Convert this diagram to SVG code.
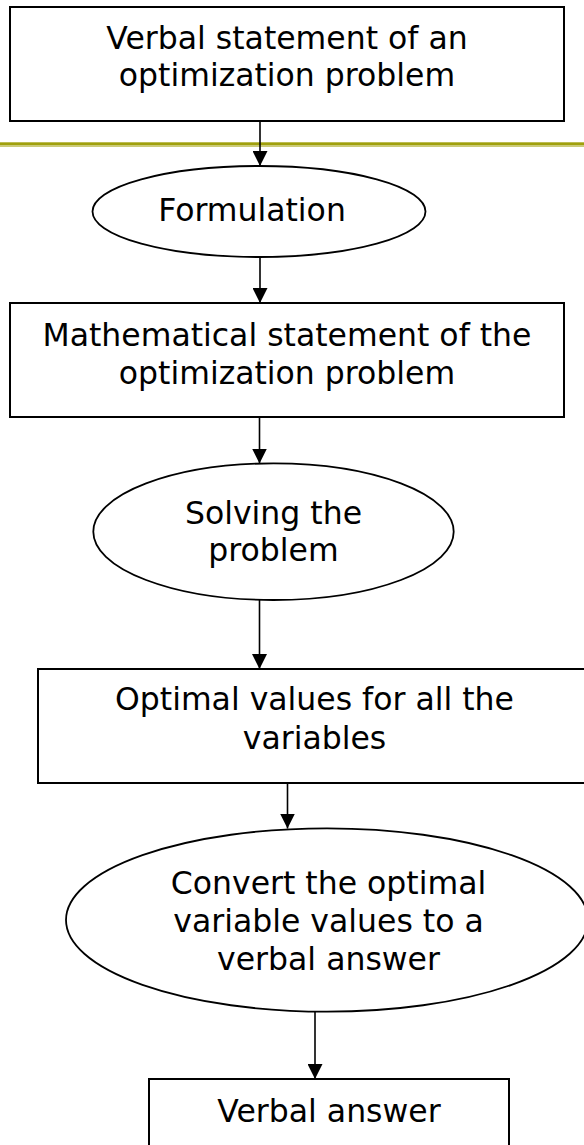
<svg xmlns="http://www.w3.org/2000/svg" width="584" height="1145" viewBox="0 0 584 1145">
<style>
.box{fill:#fff;stroke:#000;stroke-width:2}
.ell{fill:#fff;stroke:#000;stroke-width:1.8}
.lbl{font-family:"DejaVu Sans","Verdana",sans-serif;font-size:31.5px;fill:#000;text-anchor:middle}
.con{stroke:#000;stroke-width:1.6;fill:none;marker-end:url(#arr)}
</style>
<defs>
<marker id="arr" markerUnits="userSpaceOnUse" markerWidth="15" markerHeight="15" refX="15" refY="7.5" orient="auto">
<path d="M0,0 L15,7.5 L0,15 z" fill="#000"/>
</marker>
</defs>
<rect x="0" y="0" width="584" height="1145" fill="#fff"/>
<g id="rule">
<rect x="0" y="142.3" width="584" height="3.2" fill="#A0A00C"/>
<rect x="0" y="145.5" width="584" height="1.4" fill="#C6C66A"/>
</g>
<g id="connectors">
<line class="con" x1="260" y1="121" x2="260" y2="166"/>
<line class="con" x1="260" y1="257" x2="260" y2="303"/>
<line class="con" x1="259.5" y1="417" x2="259.5" y2="463.5"/>
<line class="con" x1="259.5" y1="600" x2="259.5" y2="669"/>
<line class="con" x1="287.5" y1="783" x2="287.5" y2="828.5"/>
<line class="con" x1="315" y1="1012" x2="315" y2="1079"/>
</g>
<g id="n1">
<rect class="box" x="10" y="7" width="554" height="114"/>
<text class="lbl" x="287" y="49">Verbal statement of an</text>
<text class="lbl" x="287" y="86">optimization problem</text>
</g>
<g id="n2">
<ellipse class="ell" cx="259" cy="211.5" rx="166.5" ry="45.5"/>
<text class="lbl" x="252" y="221">Formulation</text>
</g>
<g id="n3">
<rect class="box" x="10" y="303" width="554" height="114"/>
<text class="lbl" x="287" y="346">Mathematical statement of the</text>
<text class="lbl" x="287" y="383.5">optimization problem</text>
</g>
<g id="n4">
<ellipse class="ell" cx="273.5" cy="531.7" rx="180.2" ry="68.3"/>
<text class="lbl" x="273.5" y="523.5">Solving the</text>
<text class="lbl" x="273.5" y="561">problem</text>
</g>
<g id="n5">
<rect class="box" x="38" y="669" width="554" height="114"/>
<text class="lbl" x="314.5" y="710">Optimal values for all the</text>
<text class="lbl" x="314.5" y="748.5">variables</text>
</g>
<g id="n6">
<ellipse class="ell" cx="327" cy="920" rx="261" ry="91.7"/>
<text class="lbl" x="328.5" y="893.5">Convert the optimal</text>
<text class="lbl" x="328.5" y="932">variable values to a</text>
<text class="lbl" x="328.5" y="970">verbal answer</text>
</g>
<g id="n7">
<rect class="box" x="149" y="1079" width="360" height="114"/>
<text class="lbl" x="329" y="1122">Verbal answer</text>
</g>
</svg>
